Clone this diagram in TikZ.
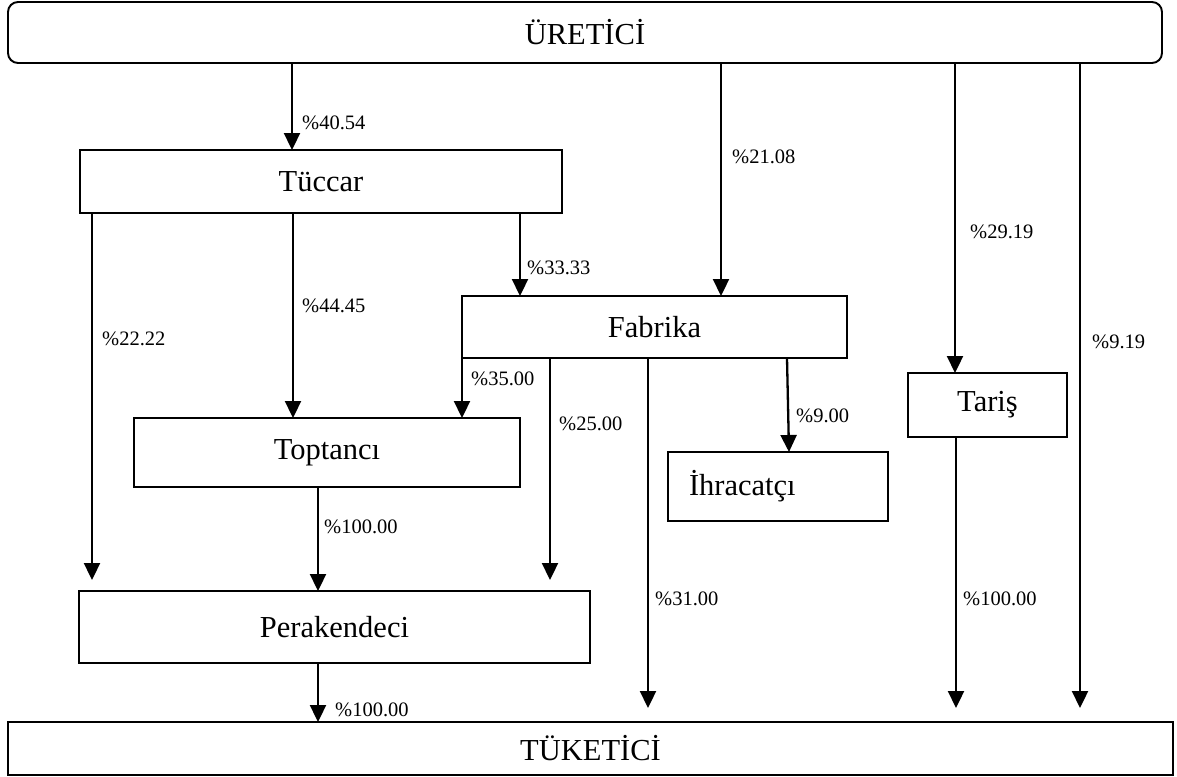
\documentclass[tikz,border=0pt]{standalone}
\usepackage{fontspec}
\setmainfont{Liberation Serif}
\usetikzlibrary{arrows.meta}
\begin{document}
\begin{tikzpicture}[x=1pt,y=-1pt,
  box/.style={draw,line width=1.9pt,inner sep=0pt,outer sep=0pt,font=\fontsize{30.5}{36}\selectfont},
  arr/.style={line width=2.3pt,-{Triangle[width=16pt,length=17pt]}},
  pct/.style={anchor=west,inner sep=0pt,font=\fontsize{20.5}{24}\selectfont}]
\useasboundingbox (0,0) rectangle (1177,776);
% boxes
\node[box,rounded corners=10pt,minimum width=1154pt,minimum height=61pt] (uret) at (585,32.5) {ÜRETİCİ};
\node[box,minimum width=482pt,minimum height=63pt] (tuccar) at (321,181.5) {Tüccar};
\node[box,minimum width=385pt,minimum height=62pt] (fabrika) at (654.5,327) {Fabrika};
\node[box,minimum width=386pt,minimum height=69pt] (toptanci) at (327,452.5) {Toptancı};
\node[box,inner xsep=21pt,text width=178pt,align=left,minimum height=69pt] (ihrac) at (778,486.5) {İhracatçı};
\node[box,minimum width=159pt,minimum height=64pt] (taris) at (987.5,405) {Tariş};
\node[box,minimum width=511pt,minimum height=72pt] (perak) at (334.5,627) {Perakendeci};
\node[box,minimum width=1165pt,minimum height=53pt] (tuket) at (590.5,748.5) {TÜKETİCİ};
% connectors
\draw[arr] (292,0 |- uret.south) -- (292,0 |- tuccar.north);
\draw[arr] (721,0 |- uret.south) -- (721,0 |- fabrika.north);
\draw[arr] (955,0 |- uret.south) -- (955,0 |- taris.north);
\draw[arr,shorten >=14pt] (1080,0 |- uret.south) -- (1080,0 |- tuket.north);
\draw[arr,shorten >=11pt] (92,0 |- tuccar.south) -- (92,0 |- perak.north);
\draw[arr] (293,0 |- tuccar.south) -- (293,0 |- toptanci.north);
\draw[arr] (520,0 |- tuccar.south) -- (520,0 |- fabrika.north);
\draw[arr] (fabrika.south west) -- (462,0 |- toptanci.north);
\draw[arr,shorten >=11pt] (550,0 |- fabrika.south) -- (550,0 |- perak.north);
\draw[arr,shorten >=14pt] (648,0 |- fabrika.south) -- (648,0 |- tuket.north);
\draw[arr] (787,0 |- fabrika.south) -- (789,0 |- ihrac.north);
\draw[arr] (318,0 |- toptanci.south) -- (318,0 |- perak.north);
\draw[arr,shorten >=14pt] (956,0 |- taris.south) -- (956,0 |- tuket.north);
\draw[arr] (318,0 |- perak.south) -- (318,0 |- tuket.north);
% labels
\node[pct] (l1) at (302,123) {\%40.54};
\node[pct] (l2) at (732,157) {\%21.08};
\node[pct] (l3) at (970,232) {\%29.19};
\node[pct] (l4) at (1092,342) {\%9.19};
\node[pct] (l5) at (102,339) {\%22.22};
\node[pct] (l6) at (302,306) {\%44.45};
\node[pct] (l7) at (527,268) {\%33.33};
\node[pct] (l8) at (471,379) {\%35.00};
\node[pct] (l9) at (559,424) {\%25.00};
\node[pct] (l10) at (655,599) {\%31.00};
\node[pct] (l11) at (796,416) {\%9.00};
\node[pct] (l12) at (324,527) {\%100.00};
\node[pct] (l13) at (963,599) {\%100.00};
\node[pct] (l14) at (335,710) {\%100.00};
\end{tikzpicture}
\end{document}
